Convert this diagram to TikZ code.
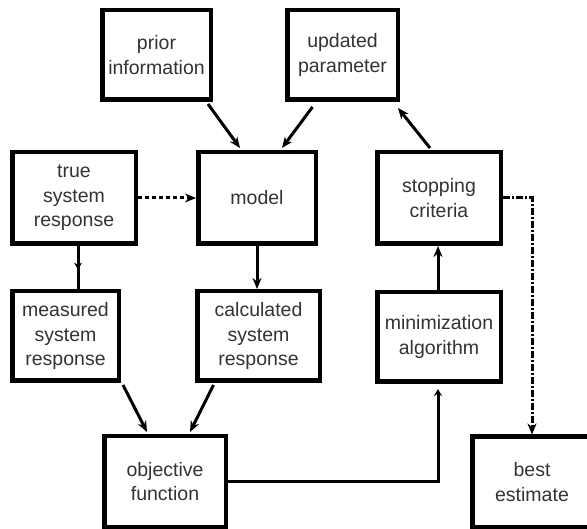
\documentclass[tikz,border=0pt]{standalone}
\usepackage{fontspec}
\setmainfont{Liberation Sans}
\usetikzlibrary{arrows.meta,calc}
\definecolor{txt}{HTML}{333333}
\begin{document}
\begin{tikzpicture}[x=1pt,y=-1pt,
  box/.style={draw=black,line width=4.5pt,fill=white,align=center,inner sep=2pt,
    font=\fontsize{19.5}{24.5}\selectfont,text=txt},
  arr/.style={line width=3pt,-{Stealth[length=11pt,width=9pt]}},
  plain/.style={line width=3pt},
  small/.style={line width=3pt,-{Stealth[length=7pt,width=8pt]}}]
\useasboundingbox[fill=white] (0,0) rectangle (587,529);
\node[box,minimum width=108.5pt,minimum height=89.5pt] (prior) at (156.5,55) {prior\\information};
\node[box,minimum width=110.5pt,minimum height=89.5pt] (upd) at (342.5,55) {updated\\parameter};
\node[box,minimum width=123.5pt,minimum height=91.5pt] (true) at (74,198) {true\\system\\response};
\node[box,minimum width=117.5pt,minimum height=91.5pt] (model) at (257,198) {model};
\node[box,minimum width=123.5pt,minimum height=91.5pt] (stop) at (439,198) {stopping\\criteria};
\node[box,minimum width=106.5pt,minimum height=89.5pt] (meas) at (65.5,336) {measured\\system\\response};
\node[box,minimum width=122.5pt,minimum height=89.5pt] (calc) at (258.5,336) {calculated\\system\\response};
\node[box,minimum width=123.5pt,minimum height=89.5pt] (mini) at (439,337) {minimization\\algorithm};
\node[box,minimum width=121.5pt,minimum height=90.5pt] (obj) at (165,481.5) {objective\\function};
\node[box,minimum width=119.5pt,minimum height=90.5pt] (best) at (532,482) {best\\estimate};
% connectors
\draw[arr] ([xshift=-5pt,yshift=-2pt]prior.south east) -- ([xshift=-17pt,yshift=2pt]model.north);
\draw[arr] ([xshift=-30pt,yshift=-5pt]upd.south) -- ([xshift=25pt,yshift=2pt]model.north);
\draw[arr] ([xshift=-9pt,yshift=2pt]stop.north) -- ([xshift=-2pt,yshift=-6pt]upd.south east);
\draw[line width=3pt,dash pattern=on 4pt off 3pt,-{Stealth[length=11pt,width=9pt]}] (true.east) -- (model.west);
\coordinate (ts) at ([xshift=4pt]true.south);
\coordinate (mn) at (ts |- meas.north);
\draw[plain] (ts) -- (mn);
\draw[small] (ts) -- ($(ts)!0.55!(mn)$);
\draw[arr] (model.south) -- (model.south |- calc.north);
\draw[arr] ([xshift=-1pt]mini.north) -- ([xshift=-1pt]mini.north |- stop.south);
\draw[arr] ([xshift=2pt,yshift=-2pt]meas.south east) -- ([xshift=-18pt,yshift=2pt]obj.north);
\draw[arr] ([xshift=-45pt,yshift=-2pt]calc.south) -- ([xshift=25pt,yshift=2pt]obj.north);
\coordinate (mb) at ([xshift=-1pt,yshift=-5pt]mini.south);
\draw[small] (obj.east) -| (mb);
\draw[line width=3pt,dash pattern=on 7pt off 2pt on 2pt off 2pt,-{Stealth[length=11pt,width=9pt]}] (stop.east) -| (best.north);
\end{tikzpicture}
\end{document}
